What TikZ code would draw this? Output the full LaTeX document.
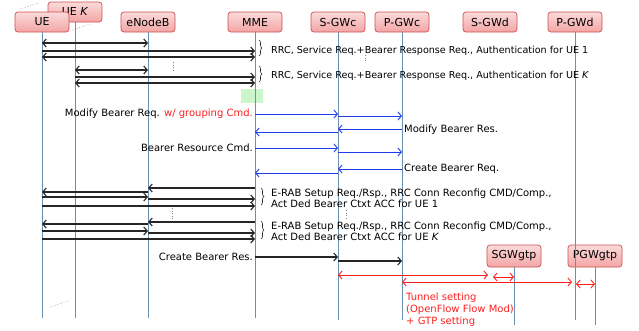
\documentclass[tikz,border=0pt]{standalone}
\usepackage{fontspec}
\setmainfont{DejaVu Sans}
\usetikzlibrary{positioning}
\usetikzlibrary{arrows.meta, decorations.pathreplacing}

\definecolor{lifeblue}{RGB}{105,145,180}
\definecolor{msgblue}{RGB}{30,60,235}
\definecolor{msgred}{RGB}{250,30,30}
\definecolor{boxedge}{RGB}{205,80,80}
\definecolor{boxtop}{RGB}{251,218,218}
\definecolor{boxbot}{RGB}{243,165,165}
\definecolor{cmdgreen}{RGB}{204,245,204}

\tikzset{
  entity/.style={rectangle,rounded corners=3pt,draw=boxedge,line width=0.7pt,top color=boxtop,bottom color=boxbot,
    minimum width=54pt,minimum height=20pt,inner sep=0pt,font=\fontsize{11}{12}\selectfont},
  life/.style={draw=lifeblue,line width=1pt},
  msg/.style={draw=black!85,line width=1.1pt},
  bmsg/.style={draw=msgblue,line width=0.9pt,->},
  rmsg/.style={draw=msgred,line width=0.9pt,<->},
  note/.style={font=\fontsize{10}{11}\selectfont,inner sep=0pt,align=left},
  group/.style={draw=black!85,line width=0.6pt,decorate,decoration={brace,amplitude=3pt}},
  etc/.style={draw=gray,dotted,line width=0.6pt}
}

\begin{document}
\begin{tikzpicture}[x=1pt,y=-1pt,>={Straight Barb[length=3.5pt,width=8pt]}]
\useasboundingbox (0,0) rectangle (639,330);

\draw[etc] (20,9) -- (39,3);
\node[entity] (uek) at (75,12) {UE \textit{K}};
\node[entity] (ue) at (42,22) {UE};
\draw[etc] (72,30) -- (90,24);
\node[entity] (enb) at (148,22) {eNodeB};
\node[entity] (mme) at (255,22) {MME};
\node[entity] (sgwc) at (338,22) {S-GWc};
\node[entity] (pgwc) at (402,22) {P-GWc};
\node[entity] (sgwd) at (490,22) {S-GWd};
\node[entity] (pgwd) at (575,22) {P-GWd};
\node[entity,minimum height=22pt] (sgwgtp) at (514,256) {SGWgtp};
\node[entity,minimum height=22pt] (pgwgtp) at (595,256) {PGWgtp};

\fill[cmdgreen] (241,89) rectangle (263,103);

\draw[life] (ue.south) -- (ue |- 0,318);
\draw[life] (uek.south) -- (uek |- 0,318);
\draw[life] (enb.south) -- (enb |- 0,318);
\draw[life] (mme.south) -- (mme |- 0,318);
\draw[life] (sgwc.south) -- (sgwc |- 0,320);
\draw[life] (pgwc.south) -- (pgwc |- 0,320);
\draw[life] (pgwd.south) -- (pgwd |- 0,320);
\draw[life] (sgwgtp.south) -- (sgwgtp |- 0,325);
\draw[life] (pgwgtp.south) -- (pgwgtp |- 0,325);

\draw[msg,<->] (ue |- 0,43) -- (enb |- 0,43);
\draw[msg,->] (ue |- 0,51) -- (mme |- 0,51);
\draw[msg,<->] (ue |- 0,57) -- (mme |- 0,57);
\draw[group] (259,40) -- (259,56);
\node[note,anchor=west,font=\fontsize{9.6}{11}\selectfont] (rrc1) at (271,51) {RRC, Service Req.+Bearer Response Req., Authentication for UE 1};

\draw[etc] (173,62) -- (173,72);
\draw[etc] (365,55) -- (365,62);

\draw[msg,<->] (uek |- 0,70) -- (enb |- 0,70);
\draw[msg,->] (uek |- 0,77) -- (mme |- 0,77);
\draw[msg,<->] (uek |- 0,83) -- (mme |- 0,83);
\draw[group] (259,66) -- (259,82);
\node[note,anchor=west,font=\fontsize{9.6}{11}\selectfont] (rrck) at (271,76) {RRC, Service Req.+Bearer Response Req., Authentication for UE \textit{K}};

\draw[bmsg] (mme |- 0,114) -- (sgwc |- 0,114);
\draw[bmsg] (sgwc |- 0,116) -- (pgwc |- 0,116);
\node[note,anchor=east] (modreq) at (253,114) {Modify Bearer Req. \textcolor{msgred}{w/ grouping Cmd.}};
\draw[bmsg] (pgwc |- 0,129) -- (sgwc |- 0,129);
\draw[bmsg] (sgwc |- 0,132) -- (mme |- 0,132);
\node[note,anchor=west] (modres) at (404,130) {Modify Bearer Res.};
\draw[bmsg] (mme |- 0,148) -- (sgwc |- 0,148);
\draw[bmsg] (sgwc |- 0,152) -- (pgwc |- 0,152);
\node[note,anchor=east] (brc) at (253,148) {Bearer Resource Cmd.};
\draw[bmsg] (pgwc |- 0,169) -- (sgwc |- 0,169);
\draw[bmsg] (sgwc |- 0,173) -- (mme |- 0,173);
\node[note,anchor=west] (cbreq) at (404,169) {Create Bearer Req.};

\draw[msg,->] (mme |- 0,188) -- (enb |- 0,188);
\draw[msg,->] (enb |- 0,192) -- (ue |- 0,192);
\draw[msg,->] (ue |- 0,197) -- (enb |- 0,197);
\draw[msg,->] (enb |- 0,199) -- (mme |- 0,199);
\draw[msg,->] (ue |- 0,206) -- (mme |- 0,206);
\draw[group] (261,188) -- (261,205);
\node[note,anchor=west] (erab1) at (271,198.5) {E-RAB Setup Req./Rsp., RRC Conn Reconfig CMD/Comp.,\\Act Ded Bearer Ctxt ACC for UE 1};

\draw[etc] (172,208) -- (172,220);
\draw[etc] (346,210) -- (346,218);

\draw[msg,->] (mme |- 0,222) -- (enb |- 0,222);
\draw[msg,->] (enb |- 0,224) -- (ue |- 0,224);
\draw[msg,->] (ue |- 0,231) -- (enb |- 0,231);
\draw[msg,->] (enb |- 0,233) -- (mme |- 0,233);
\draw[msg,->] (ue |- 0,239) -- (mme |- 0,239);
\draw[group] (261,221) -- (261,239);
\node[note,anchor=west] (erabk) at (271,231) {E-RAB Setup Req./Rsp., RRC Conn Reconfig CMD/Comp.,\\Act Ded Bearer Ctxt ACC for UE \textit{K}};

\draw[msg,->] (mme |- 0,257) -- (sgwc |- 0,257);
\draw[msg,->] (sgwc |- 0,261) -- (pgwc |- 0,261);
\node[note,anchor=east] (cbres) at (253,257) {Create Bearer Res.};

\draw[rmsg,shorten >=2pt] (sgwc |- 0,275) -- (sgwd |- 0,275);
\draw[rmsg,shorten <=3pt] (sgwd |- 0,277) -- (sgwgtp |- 0,277);
\draw[rmsg,shorten >=3pt] (pgwc |- 0,282) -- (pgwd |- 0,282);
\draw[rmsg,shorten <=1pt] (pgwd |- 0,284) -- (pgwgtp |- 0,284);
\node[note,anchor=west,text=msgred,font=\fontsize{10}{12}\selectfont] (tunnel) at (406,310) {Tunnel setting\\(OpenFlow Flow Mod)\\+ GTP setting};

\draw[etc] (50,307) -- (68,301);

\end{tikzpicture}
\end{document}
